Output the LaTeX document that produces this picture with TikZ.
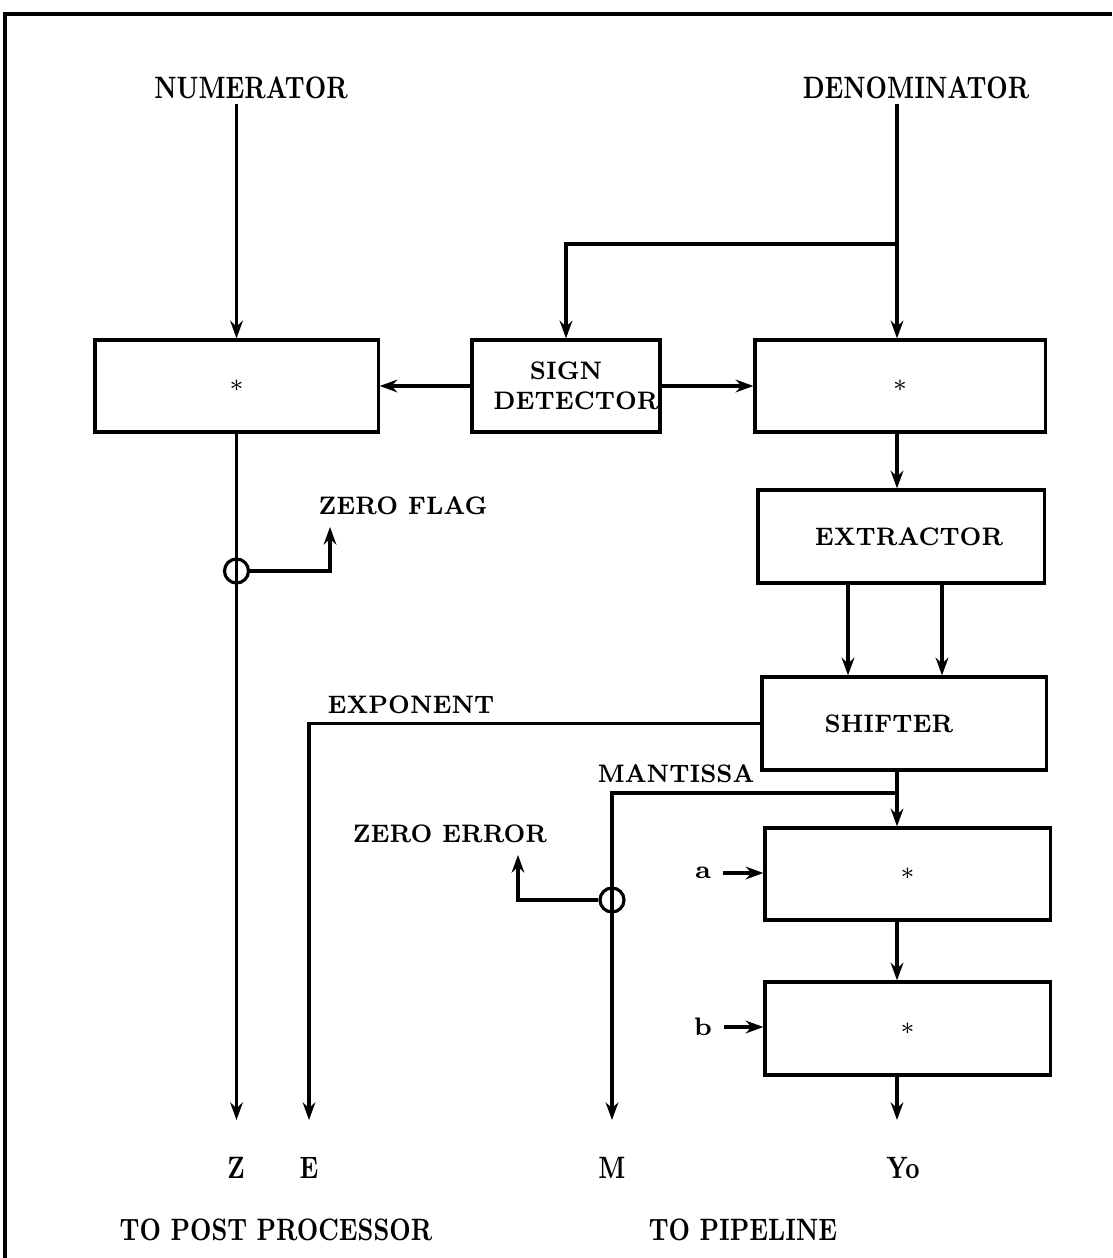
\documentclass[tikz,border=0pt]{standalone}
\usetikzlibrary{arrows.meta,calc}
\newcommand{\narrow}[1]{\scalebox{0.78}[1]{#1}}
\newcommand{\slim}[1]{\scalebox{0.89}[1]{#1}}

\begin{document}
\begin{tikzpicture}[x=0.01cm,y=-0.01cm,line width=0.9pt,>={Stealth[length=5pt,width=3.6pt]},
  box/.style={draw,inner sep=0pt,minimum height=0.92cm},
  mul/.style={box,font=\fontsize{7}{8}\selectfont},
  ring/.style={draw,circle,inner sep=0pt,minimum size=0.24cm},
  lbl/.style={font=\fontsize{7.2}{8.6}\selectfont\bfseries,inner sep=1pt},
  io/.style={font=\fontsize{8.8}{10}\selectfont\bfseries,inner sep=1pt}]
\useasboundingbox (0,0) rectangle (1112,1258);
% ---------- frame ----------
\draw[line width=1pt] (5,1258) -- (5,14) -- (1112,14);
% ---------- inputs and outputs ----------
\node[io] (numer) at (251,88) {\narrow{NUMERATOR}};
\node[io] (denom) at (916,88) {\narrow{DENOMINATOR}};
\node[io] (outZ) at (236,1168) {\narrow{Z}};
\node[io] (outE) at (309,1168) {\narrow{E}};
\node[io] (outM) at (612,1168) {\narrow{M}};
\node[io] (outY) at (903,1168) {\narrow{Yo}};
\node[io] (toPost) at (276,1230) {\narrow{TO POST PROCESSOR}};
\node[io] (toPipe) at (743,1230) {\narrow{TO PIPELINE}};
% ---------- blocks ----------
\node[mul,minimum width=2.83cm] (mulN) at (236.5,386) {$*$};
\node[box,lbl,inner sep=0pt,minimum width=1.88cm,align=center] (sign) at (566,386) {\slim{SIGN}\\\hspace*{0.2cm}\slim{DETECTOR}};
\node[mul,minimum width=2.90cm] (mulD) at (900,386) {$*$};
\node[box,lbl,inner sep=0pt,minimum width=2.86cm,minimum height=0.93cm] (extr) at (901,536.5) {\hspace*{0.16cm}\slim{EXTRACTOR}};
\node[box,lbl,inner sep=0pt,minimum width=2.84cm,minimum height=0.93cm] (shift) at (904,723.5) {\slim{SHIFTER}\hspace*{0.3cm}};
\node[mul,minimum width=2.85cm] (mulA) at (907.5,874) {$*$};
\node[mul,minimum width=2.85cm,minimum height=0.93cm] (mulB) at (907.5,1028.5) {$*$};
\node[lbl,inner sep=3pt] (ina) at (703,873) {a};
\node[lbl,inner sep=3pt] (inb) at (703,1027) {b};
% ---------- side labels ----------
\node[lbl] (zfLbl) at (403,506) {\slim{ZERO FLAG}};
\node[lbl] (zeLbl) at (450,834) {\slim{ZERO ERROR}};
\node[lbl] (expLbl) at (411,705) {\slim{EXPONENT}};
\node[lbl] (manLbl) at (676,774) {\slim{MANTISSA}};
% ---------- helper points ----------
\coordinate (colD) at (897,0);
\coordinate (ends) at (0,1120);
\coordinate (split) at (897,244);
\coordinate (mSplit) at (897,793);
\coordinate (e1) at (848,0);
\coordinate (e2) at (942,0);
\coordinate (zfTip) at (330,527);
\coordinate (zeTip) at (518,855);
% ---------- connectors ----------
\draw[->] (mulN.north |- numer.south) -- (mulN.north);
\draw[->] (colD |- denom.south) -- (mulD.north -| colD);
\draw[->] (split) -| (sign.north);
\draw[->] (sign.west) -- (mulN.east);
\draw[->] (sign.east) -- (mulD.west);
\draw[->] (mulD.south -| colD) -- (extr.north -| colD);
\draw[->] (extr.south -| e1) -- (shift.north -| e1);
\draw[->] (extr.south -| e2) -- (shift.north -| e2);
\draw[->] (shift.south -| colD) -- (mulA.north -| colD);
\draw[->] (mulA.south -| colD) -- (mulB.north -| colD);
\draw[->] (mulB.south -| colD) -- (colD |- ends);
\draw[->] (ina.east) -- (mulA.west |- ina.east);
\draw[->] (inb.east) -- (mulB.west |- inb.east);
\draw[->] (shift.west) -| (outE |- ends);
\draw[->] (mSplit) -| (outM |- ends);
\draw[->] (mulN.south) -- (mulN.south |- ends);
% zero tests
\node[ring] (zflag) at (236.5,571) {};
\node[ring] (zerr) at (612,900) {};
\draw[->] (zflag.east) -| (zfTip);
\draw[->] (zerr.west) -| (zeTip);
\end{tikzpicture}
\end{document}
